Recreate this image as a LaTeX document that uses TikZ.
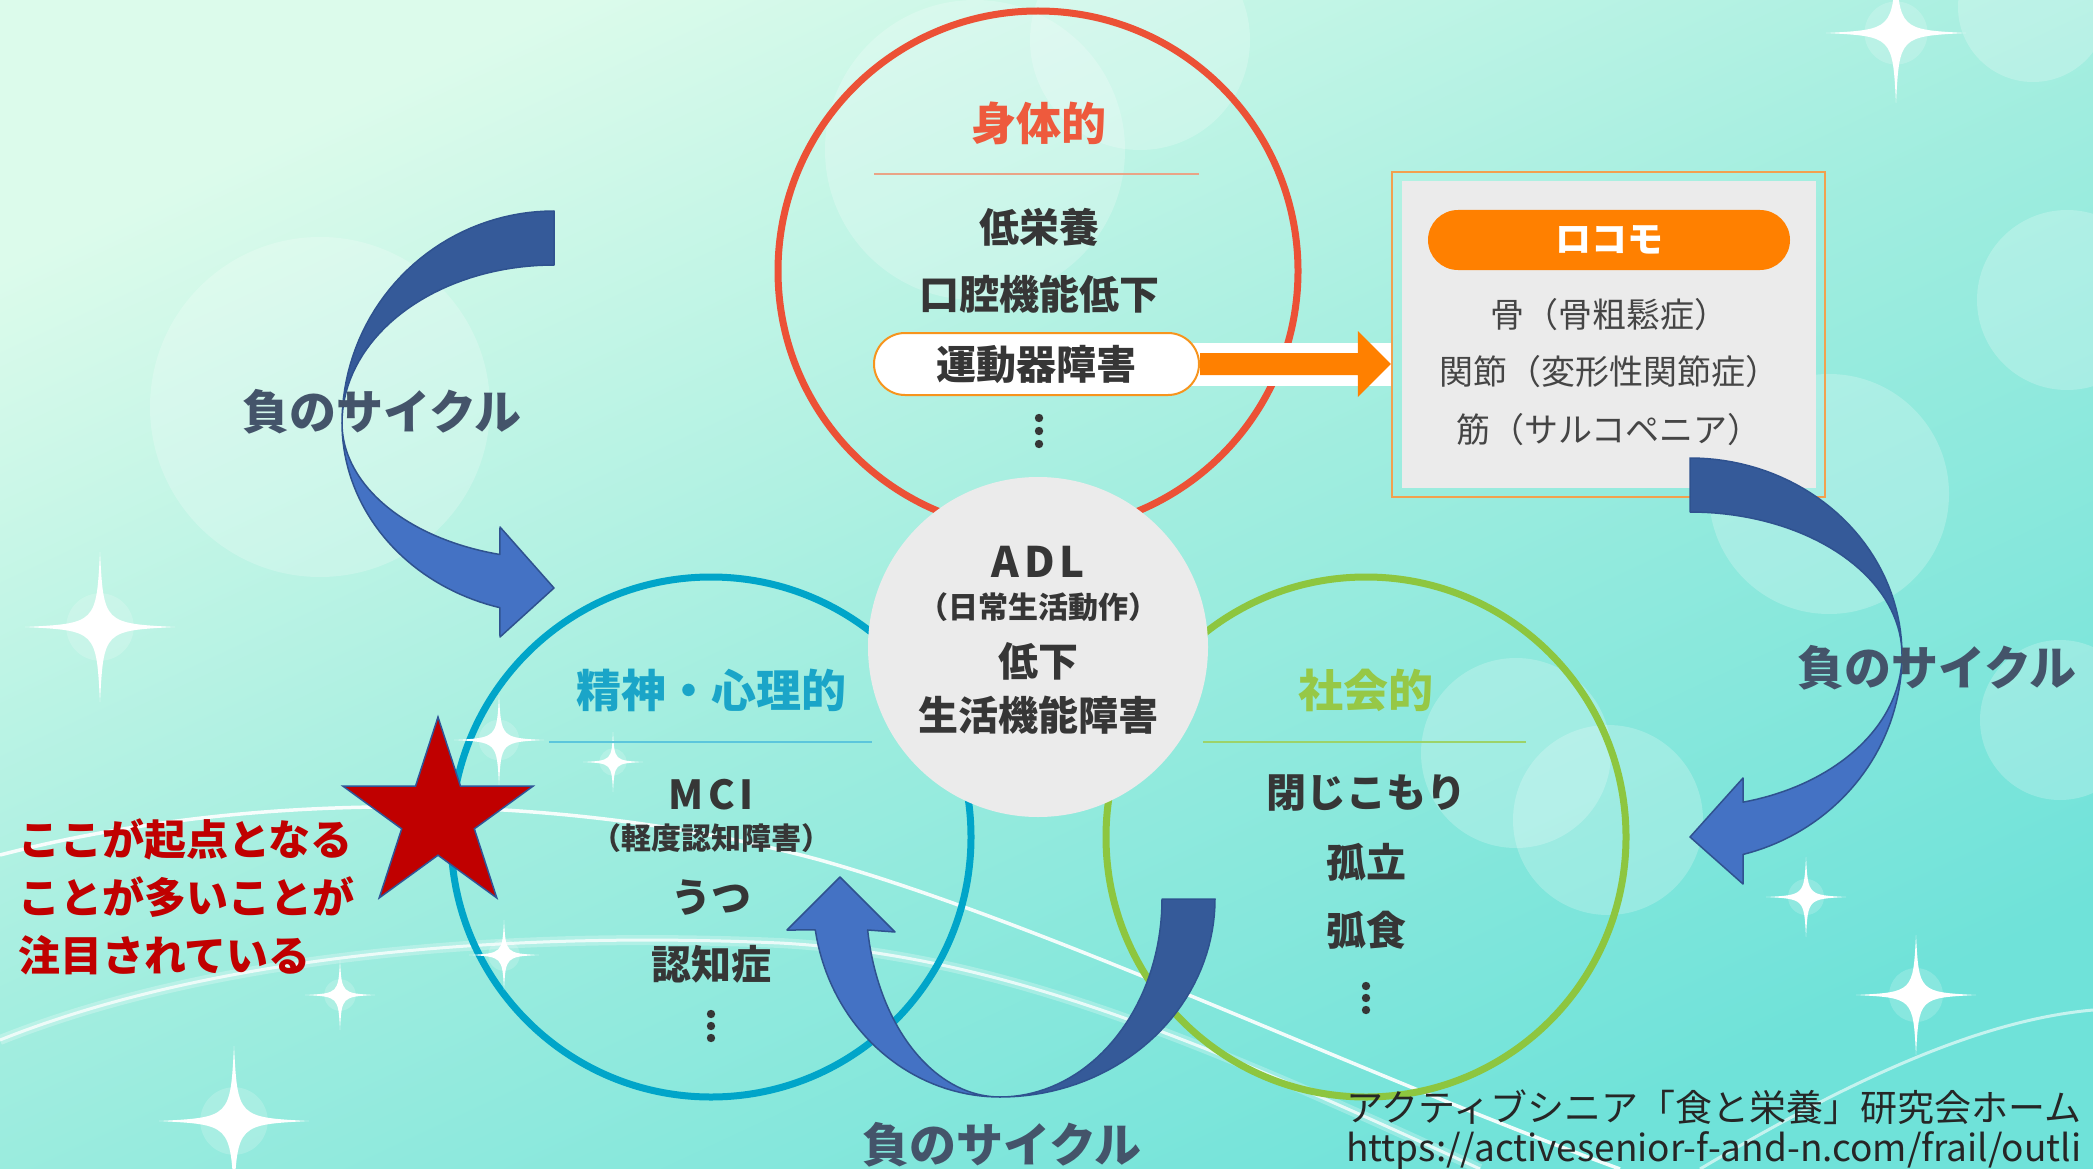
\documentclass[tikz,border=0pt]{standalone}
\usepackage{fontspec}
\setmainfont{Noto Sans CJK JP}
\usetikzlibrary{shapes.geometric,calc}
\definecolor{bgtop}{HTML}{DCFBEB}
\definecolor{bgmid}{HTML}{A0EDDF}
\definecolor{bgbot}{HTML}{6FE2D9}
\definecolor{redc}{HTML}{EC5136}
\definecolor{redt}{HTML}{EE5A3D}
\definecolor{redsep}{HTML}{E9A486}
\definecolor{bluec}{HTML}{00A5C9}
\definecolor{bluet}{HTML}{1AA5C8}
\definecolor{bluesep}{HTML}{5CC6DC}
\definecolor{greenc}{HTML}{8DC63F}
\definecolor{greent}{HTML}{96C846}
\definecolor{greensep}{HTML}{9CD36A}
\definecolor{txt}{HTML}{363636}
\definecolor{loctxt}{HTML}{454545}
\definecolor{adlgray}{HTML}{EBEBEB}
\definecolor{orangec}{HTML}{FF8000}
\definecolor{pillbd}{HTML}{F7941D}
\definecolor{boxbd}{HTML}{F2A04E}
\definecolor{slate}{HTML}{44546A}
\definecolor{arrdark}{HTML}{355A99}
\definecolor{arrlight}{HTML}{4472C4}
\definecolor{arredge}{HTML}{2F528F}
\definecolor{starred}{HTML}{C00000}
\definecolor{staredge}{HTML}{2F5597}
\begin{document}
\begin{tikzpicture}[x=1pt,y=-1pt,
  ring/.style={circle, draw, line width=7pt, minimum size=520pt, inner sep=0pt},
  ttl/.style={font=\fontsize{45}{50}\selectfont\bfseries, inner sep=0pt},
  itm/.style={font=\fontsize{40}{46}\selectfont\bfseries, text=txt, inner sep=0pt},
  subt/.style={font=\fontsize{30}{34}\selectfont\bfseries, text=txt, inner sep=0pt},
  loc/.style={font=\fontsize{34}{38}\selectfont, text=loctxt, inner sep=0pt},
  cyc/.style={font=\fontsize{47}{52}\selectfont\bfseries, text=slate, inner sep=0pt},
  sepline/.style={line width=2.5pt},
  darkband/.style={fill=arrdark, draw=arredge, line width=1.5pt, line join=round},
  lightband/.style={fill=arrlight, draw=arredge, line width=1.5pt, line join=round},
  bokeh/.style={fill=white, opacity=0.22},
  sparkle/.pic={
    \fill[white,opacity=0.18] (0,0) circle (0.45);
    \fill[white,opacity=0.35] (0,0) circle (0.22);
    \fill[white] (0,-1) .. controls (0.05,-0.05) .. (1,0) .. controls (0.05,0.05) .. (0,1)
       .. controls (-0.05,0.05) .. (-1,0) .. controls (-0.05,-0.05) .. (0,-1) -- cycle;
  },
]
\useasboundingbox (0,0) rectangle (2093,1169);
\clip (0,0) rectangle (2093,1169);
% background
\shade[top color=bgtop, bottom color=bgbot, middle color=bgmid, shading angle=25] (0,0) rectangle (2093,1169);
\fill[bokeh] (320,407) circle (170);
\fill[bokeh] (975,150) circle (150);
\fill[bokeh] (1140,40) circle (110);
\fill[bokeh] (1829,494) circle (120);
\fill[bokeh] (1516,753) circle (95);
\fill[bokeh] (1608,820) circle (95);
\fill[bokeh] (2033,7) circle (75);
\fill[bokeh] (2067,300) circle (90);
\fill[bokeh] (2060,720) circle (80);
% wavy lines
\draw[white, line width=10pt, opacity=0.25] (0,1040) .. controls (200,960) and (480,930) .. (780,943) .. controls (1000,955) and (1200,1040) .. (1480,1169);
\draw[white, line width=3pt, opacity=0.75] (0,1040) .. controls (200,960) and (480,930) .. (780,943) .. controls (1000,955) and (1200,1040) .. (1480,1169);
\draw[white, line width=3.5pt, opacity=0.9] (0,855) .. controls (250,790) and (560,790) .. (820,860) .. controls (1050,925) and (1350,1070) .. (1620,1169);
\draw[white, line width=3pt, opacity=0.6] (1700,1169) .. controls (1850,1080) and (1980,1020) .. (2093,1010);

% circles
\node[ring, draw=redc] (phys) at (1038,271) {};
\node[ring, draw=bluec] (mind) at (711,837) {};
\node[ring, draw=greenc] (soc) at (1366,837) {};

% sparkles
\pic[scale=70] at (1896,33) {sparkle};
\pic[scale=75] at (100,627) {sparkle};
\pic[scale=75] at (234,1121) {sparkle};
\pic[scale=60] at (1916,995) {sparkle};
\pic[scale=40] at (1806,897) {sparkle};
\pic[scale=35] at (340,995) {sparkle};
\pic[scale=45] at (499,740) {sparkle};
\pic[scale=30] at (613,762) {sparkle};
\pic[scale=35] at (504,955) {sparkle};

% ADL circle
\node[circle, fill=adlgray, minimum size=340pt, inner sep=0pt] (adl) at (1038,647) {};
\node[font=\fontsize{42}{46}\selectfont\bfseries, text=txt, inner sep=0pt] (adl1) at (1038,562) {A\kern5pt D\kern5pt L};
\node[subt] (adl2) at (1038,607) {（日常生活動作）};
\node[itm] (adl3) at (1038,661) {低下};
\node[itm] (adl4) at (1038,715) {生活機能障害};

% physical circle content
\node[ttl, text=redt] (physT) at (1039,123) {身体的};
\draw[sepline, draw=redsep] (874,174) -- (1199,174);
\node[itm] (p1) at (1039,227) {低栄養};
\node[itm] (p2) at (1039,294) {口腔機能低下};
\foreach \yy in {418,431,444} \fill[txt] (1039,\yy) circle (4.2);

% locomo box
\node[draw=boxbd, line width=2.5pt, minimum width=433pt, minimum height=325pt, inner sep=0pt] (loco) at (1608.5,334.5) {};
\node[fill=adlgray, minimum width=414pt, minimum height=306pt, inner sep=0pt] (locoin) at (1608.5,334.5) {};
\node[fill=orangec, rounded corners=30pt, minimum width=362pt, minimum height=60pt, inner sep=0pt, text=white, font=\fontsize{36}{40}\selectfont\bfseries] (locoT) at (1609,240) {ロコモ};
\node[loc] (l1) at (1609,315) {骨（骨粗鬆症）};
\node[loc] (l2) at (1609,372) {関節（変形性関節症）};
\node[loc] (l3) at (1609,430) {筋（サルコペニア）};

% connector pill -> box
\coordinate (pillc) at (1036.5,364);
\coordinate (tip) at (pillc -| loco.west);
\fill[white] ($(pillc)+(120,-21.5)$) rectangle ($(tip)+(0,21.5)$);
\node[itm, draw=pillbd, line width=2pt, fill=white, rounded corners=31pt, minimum width=325pt, minimum height=62pt] (p3) at (pillc) {運動器障害};
\fill[orangec] ($(p3.east)+(0,-11)$) -- ($(tip)+(-33,-11)$) -- ($(tip)+(-33,-33)$) -- (tip)
   -- ($(tip)+(-33,33)$) -- ($(tip)+(-33,11)$) -- ($(p3.east)+(0,11)$) -- cycle;

% mental circle content
\node[ttl, text=bluet] (mindT) at (711,690) {精神・心理的};
\draw[sepline, draw=bluesep] (549,742) -- (872,742);
\node[font=\fontsize{40}{44}\selectfont\bfseries, text=txt, inner sep=0pt] (m1) at (711,795) {M\kern5pt C\kern5pt I};
\node[subt] (m2) at (711,838) {（軽度認知障害）};
\node[itm] (m3) at (711,898) {うつ};
\node[itm] (m4) at (711,964) {認知症};
\foreach \yy in {1014,1026,1038} \fill[txt] (711,\yy) circle (4.2);

% social circle content
\node[ttl, text=greent] (socT) at (1366,690) {社会的};
\draw[sepline, draw=greensep] (1203,742) -- (1526,742);
\node[itm] (s1) at (1366,793) {閉じこもり};
\node[itm] (s2) at (1366,862) {孤立};
\node[itm] (s3) at (1366,930) {弧食};
\foreach \yy in {986,998,1010} \fill[txt] (1366,\yy) circle (4.2);

% left curved arrow
\path[darkband] plot[domain=-90:-180, samples=40, variable=\t] ({554+212*cos(\t)},{423+212*sin(\t)})
   -- plot[domain=-180:-90, samples=40, variable=\t] ({554+212*cos(\t)},{423+158*sin(\t)}) -- cycle;
\path[lightband] plot[domain=180:104.8, samples=40, variable=\t] ({554+212*cos(\t)},{423+191*sin(\t)})
   -- (500,637) -- (554,588) -- (500,527)
   -- plot[domain=104.8:180, samples=40, variable=\t] ({554+212*cos(\t)},{423+136*sin(\t)}) -- cycle;
% right curved arrow
\path[darkband] plot[domain=-90:0, samples=40, variable=\t] ({1690+212*cos(\t)},{655+197*sin(\t)})
   -- plot[domain=0:-90, samples=40, variable=\t] ({1690+212*cos(\t)},{655+143*sin(\t)}) -- cycle;
\path[lightband] plot[domain=0:75.5, samples=40, variable=\t] ({1690+212*cos(\t)},{655+206*sin(\t)})
   -- (1743,884) -- (1690,837) -- (1743,778)
   -- plot[domain=75.5:0, samples=40, variable=\t] ({1690+212*cos(\t)},{655+152*sin(\t)}) -- cycle;
% bottom curved arrow
\path[darkband] plot[domain=0:90, samples=40, variable=\t] ({1000+215*cos(\t)},{899+198*sin(\t)})
   -- plot[domain=90:0, samples=40, variable=\t] ({1000+162*cos(\t)},{899+198*sin(\t)}) -- cycle;
\path[lightband] plot[domain=90:171, samples=40, variable=\t] ({1000+187*cos(\t)},{899+198*sin(\t)})
   -- (787,930) -- (840,877) -- (895,932)
   -- plot[domain=171:90, samples=40, variable=\t] ({1000+134*cos(\t)},{899+198*sin(\t)}) -- cycle;

% cycle labels
\node[cyc] (cycL) at (382,412) {負のサイクル};
\node[cyc] (cycR) at (1937,668) {負のサイクル};
\node[cyc] (cycB) at (1002,1145) {負のサイクル};

% star and note
\node[star, star points=5, star point ratio=2.618, minimum size=200pt, inner sep=0pt, fill=starred, draw=staredge, line width=1.5pt] (star) at (438,817) {};
\node[anchor=north west, align=left, font=\fontsize{42}{58}\selectfont\bfseries, text=starred, inner sep=0pt] (note) at (18,818) {ここが起点となる\\ことが多いことが\\注目されている};

% citation
\node[anchor=west, font=\fontsize{37}{40}\selectfont, text=black!85, inner sep=0pt] (cite1) at (1346,1107) {アクティブシニア「食と栄養」研究会ホーム};
\node[anchor=west, font=\fontsize{37}{40}\selectfont, text=black!85, inner sep=0pt] (cite2) at (1346,1151) {https://activesenior-f-and-n.com/frail/outli};
\end{tikzpicture}
\end{document}
